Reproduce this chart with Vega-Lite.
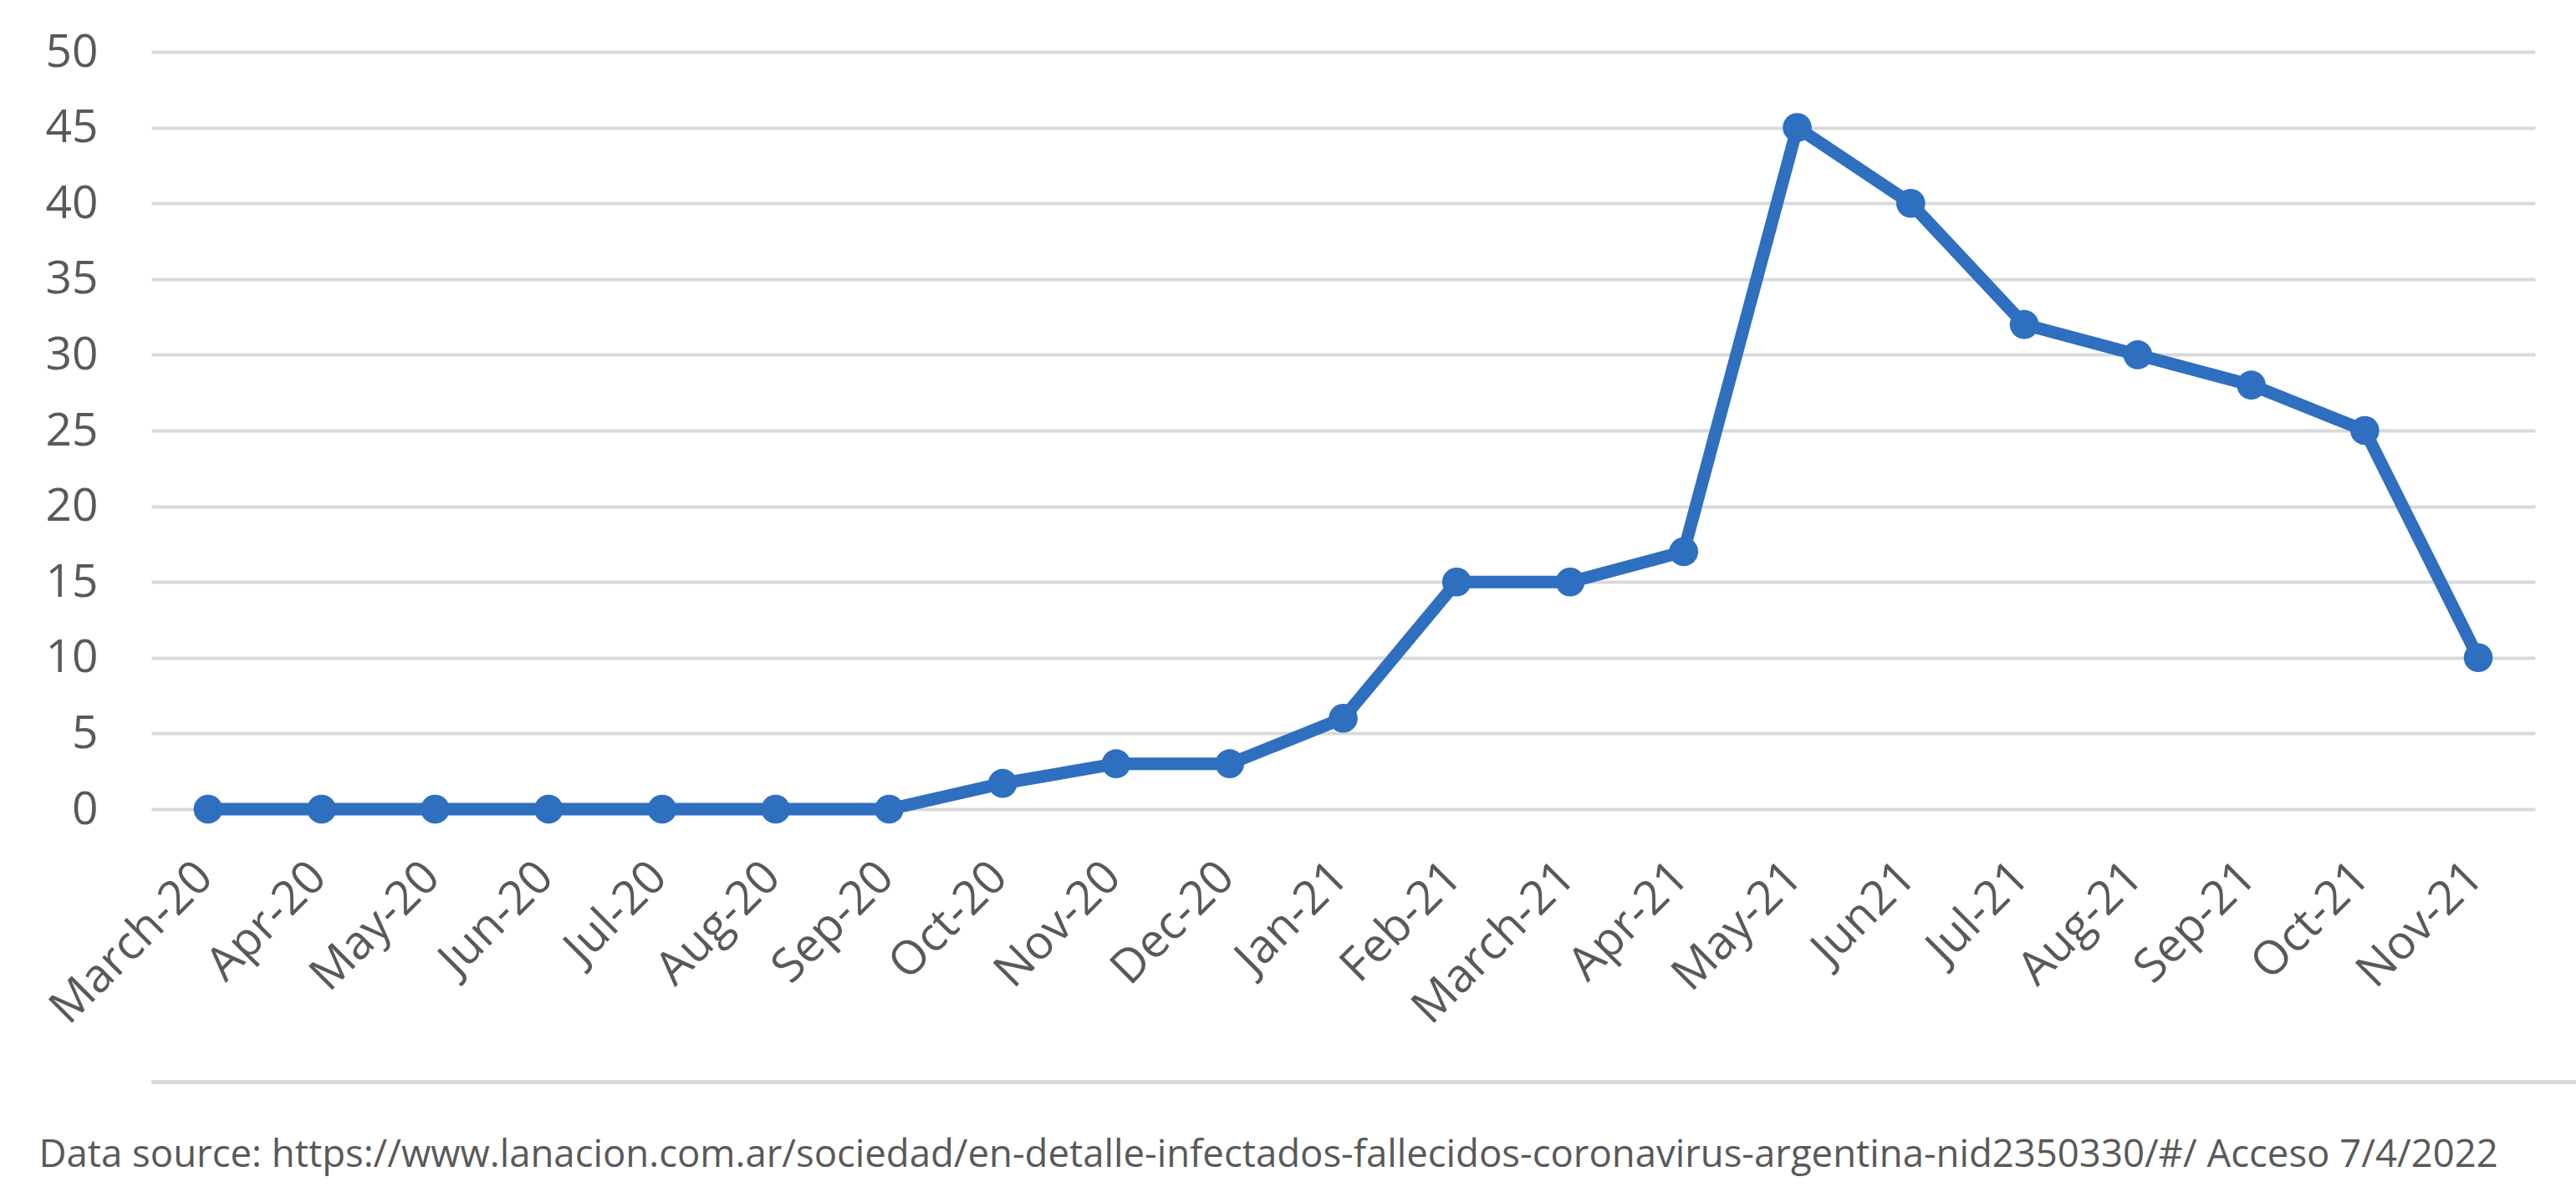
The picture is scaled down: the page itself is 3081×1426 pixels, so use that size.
{
  "$schema": "https://vega.github.io/schema/vega-lite/v6.json",
  "background": "white",
  "padding": {"left": 30, "top": 35, "right": 0, "bottom": 20},
  "config": {
    "view": {"stroke": null},
    "font": "Open Sans"
  },
  "columns": 1,
  "spacing": 57,
  "concat": [
    {
      "width": 2851,
      "height": 906,
      "data": {
        "values": [
          {"month": "March-20", "value": 0},
          {"month": "Apr-20", "value": 0},
          {"month": "May-20", "value": 0},
          {"month": "Jun-20", "value": 0},
          {"month": "Jul-20", "value": 0},
          {"month": "Aug-20", "value": 0},
          {"month": "Sep-20", "value": 0},
          {"month": "Oct-20", "value": 1.7},
          {"month": "Nov-20", "value": 3},
          {"month": "Dec-20", "value": 3},
          {"month": "Jan-21", "value": 6},
          {"month": "Feb-21", "value": 15},
          {"month": "March-21", "value": 15},
          {"month": "Apr-21", "value": 17},
          {"month": "May-21", "value": 45},
          {"month": "Jun21", "value": 40},
          {"month": "Jul-21", "value": 32},
          {"month": "Aug-21", "value": 30},
          {"month": "Sep-21", "value": 28},
          {"month": "Oct-21", "value": 25},
          {"month": "Nov-21", "value": 10}
        ]
      },
      "encoding": {
        "x": {
          "field": "month",
          "type": "ordinal",
          "sort": null,
          "scale": {"type": "point", "padding": 0.5},
          "axis": {
            "title": null,
            "labelAngle": -45,
            "labelAlign": "right",
            "labelBaseline": "middle",
            "labelFontSize": 56,
            "labelColor": "#595959",
            "labelPadding": 72,
            "labelOffset": -4,
            "labelLimit": 0,
            "labelOverlap": false,
            "ticks": false,
            "domain": false,
            "grid": false
          }
        },
        "y": {
          "field": "value",
          "type": "quantitative",
          "scale": {"domain": [0, 50], "nice": false},
          "axis": {
            "title": null,
            "values": [0, 5, 10, 15, 20, 25, 30, 35, 40, 45, 50],
            "labelFontSize": 55,
            "labelColor": "#595959",
            "labelPadding": 64,
            "ticks": false,
            "domain": false,
            "grid": true,
            "gridColor": "#d9d9d9",
            "gridWidth": 4,
            "minExtent": 151
          }
        }
      },
      "layer": [
        {"mark": {"type": "line", "color": "#2E6FBF", "strokeWidth": 15}},
        {"mark": {"type": "point", "filled": true, "opacity": 1, "color": "#2E6FBF", "size": 1200}}
      ]
    },
    {
      "width": 2900,
      "height": 1,
      "data": {"values": [{"sep": 0}]},
      "title": {
        "text": "Data source: https://www.lanacion.com.ar/sociedad/en-detalle-infectados-fallecidos-coronavirus-argentina-nid2350330/#/ Acceso 7/4/2022",
        "orient": "bottom",
        "anchor": "start",
        "fontSize": 45.5,
        "fontWeight": "normal",
        "color": "#595959",
        "font": "Open Sans",
        "offset": 63,
        "dx": -132
      },
      "mark": {"type": "rule", "color": "#d9d9d9", "strokeWidth": 5},
      "encoding": {
        "y": {"field": "sep", "type": "quantitative", "axis": null}
      }
    }
  ]
}
